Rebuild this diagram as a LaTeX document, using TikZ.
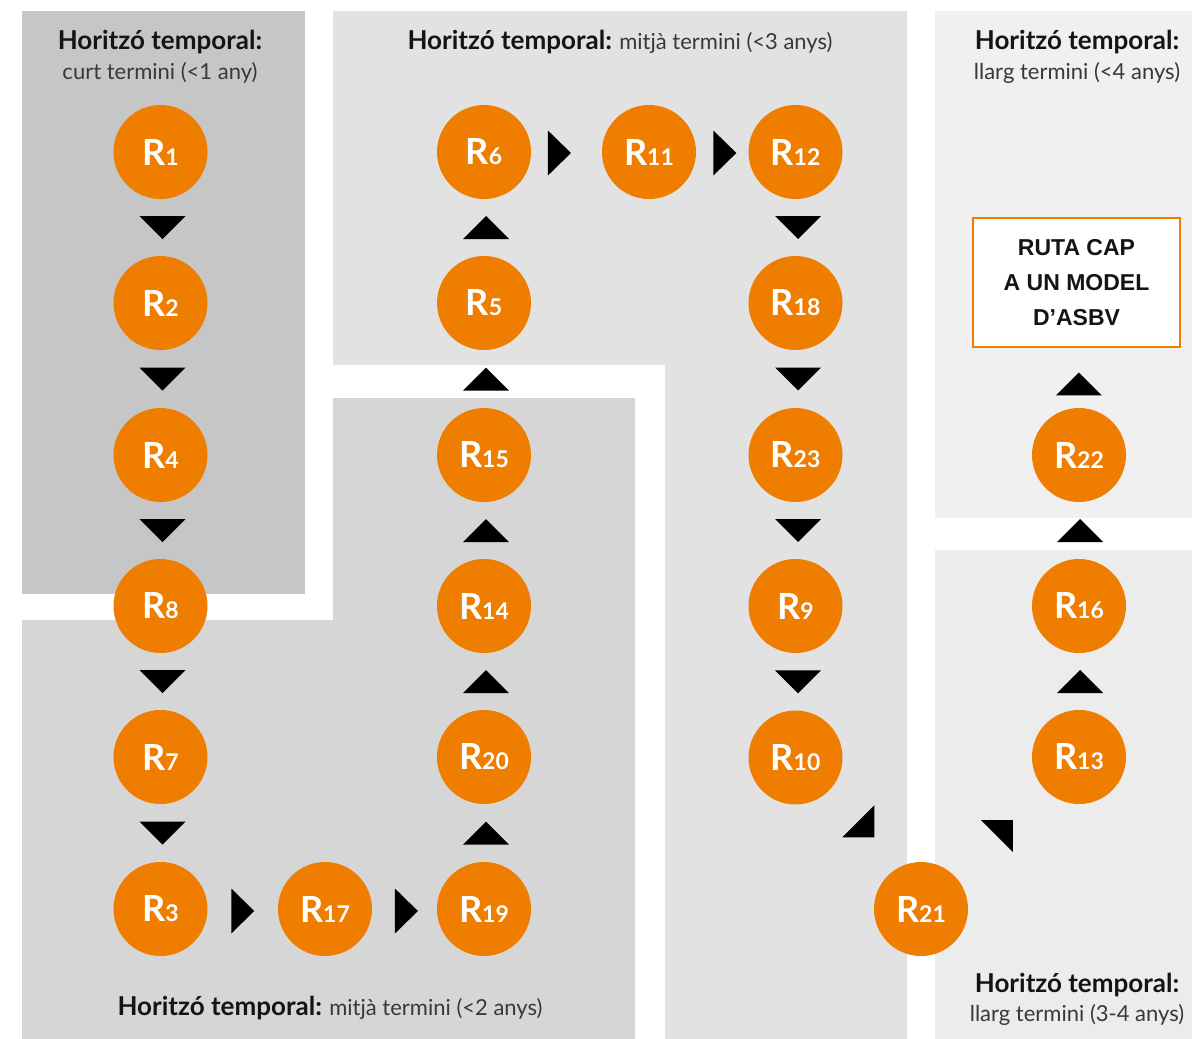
\documentclass[tikz,border=0pt]{standalone}
\usepackage{fontspec}
\setmainfont{Lato}
\newfontfamily\boxfont{Liberation Sans}
\usetikzlibrary{calc}
\definecolor{orng}{HTML}{EF7D00}
\definecolor{bgA}{HTML}{C6C6C6}
\definecolor{bgB}{HTML}{D6D6D6}
\definecolor{bgC}{HTML}{E2E2E2}
\definecolor{bgD}{HTML}{F0F0F0}
\definecolor{bgE}{HTML}{ECECEC}
\definecolor{txtb}{HTML}{141414}
\definecolor{txtr}{HTML}{383838}
\newcommand\rl[1]{R{\fontsize{23}{23}\selectfont #1}}
\newcommand\hz{{\fontsize{26}{30}\selectfont\bfseries\color{txtb}Horitzó temporal:}}
\tikzset{
  rnode/.style={circle, fill=orng, minimum size=94pt, inner sep=0pt, text=white,
    font=\fontsize{36}{36}\selectfont\bfseries},
  tri/.style={inner sep=0pt, outer sep=0pt},
  tridn/.style={tri, minimum width=46pt, minimum height=23pt,
    path picture={\fill[black] (path picture bounding box.north west) -- (path picture bounding box.north east) -- (path picture bounding box.south) -- cycle;}},
  triup/.style={tri, minimum width=46pt, minimum height=23pt,
    path picture={\fill[black] (path picture bounding box.south west) -- (path picture bounding box.south east) -- (path picture bounding box.north) -- cycle;}},
  trirt/.style={tri, minimum width=23pt, minimum height=45pt,
    path picture={\fill[black] (path picture bounding box.north west) -- (path picture bounding box.south west) -- (path picture bounding box.east) -- cycle;}},
  tridga/.style={tri, minimum width=32pt, minimum height=32pt,
    path picture={\fill[black] (path picture bounding box.south west) -- (path picture bounding box.north east) -- (path picture bounding box.south east) -- cycle;}},
  tridgb/.style={tri, minimum width=32pt, minimum height=32pt,
    path picture={\fill[black] (path picture bounding box.north west) -- (path picture bounding box.north east) -- (path picture bounding box.south east) -- cycle;}},
  ttl/.style={anchor=base, inner sep=0pt, font=\fontsize{22}{30}\selectfont, text=txtr},
  goalbox/.style={draw=orng, line width=2.5pt, fill=white, minimum width=207pt, minimum height=129pt,
    align=center, inner sep=0pt, font=\boxfont\fontsize{23}{35}\selectfont\bfseries, text=txtb},
}
\begin{document}
\begin{tikzpicture}[x=1pt,y=-1pt]
\useasboundingbox (0,0) rectangle (1192,1039);
% background panels
\fill[bgA] (22,11) rectangle (305,594);
\fill[bgB] (22,620) -- (333,620) -- (333,398) -- (635,398) -- (635,1039) -- (22,1039) -- cycle;
\fill[bgC] (333,11) -- (907,11) -- (907,1039) -- (665,1039) -- (665,365) -- (333,365) -- cycle;
\fill[bgD] (935,11) rectangle (1192,518);
\fill[bgE] (935,550) rectangle (1192,1039);

% titles
\node[ttl] (ta1) at (160,49) {\hz};
\node[ttl] (ta2) at (160,79) {curt termini (<1 any)};
\node[ttl] (tb1) at (620,49) {\hz{} mitjà termini (<3 anys)};
\node[ttl] (tc1) at (1077,49) {\hz};
\node[ttl] (tc2) at (1077,79) {llarg termini (<4 anys)};
\node[ttl] (td1) at (1077,992) {\hz};
\node[ttl] (td2) at (1077,1021) {llarg termini (3-4 anys)};
\node[ttl] (te1) at (330,1015) {\hz{} mitjà termini (<2 anys)};

% nodes
\node[rnode] (r1) at (160.5,152) {\rl{1}};
\node[rnode] (r2) at (160.5,303) {\rl{2}};
\node[rnode] (r4) at (160.5,455) {\rl{4}};
\node[rnode] (r8) at (160.5,606) {\rl{8}};
\node[rnode] (r7) at (160.5,757) {\rl{7}};
\node[rnode] (r3) at (160.5,909) {\rl{3}};
\node[rnode] (r17) at (325,909) {\rl{17}};
\node[rnode] (r19) at (484,909) {\rl{19}};
\node[rnode] (r20) at (484,757) {\rl{20}};
\node[rnode] (r14) at (484,606) {\rl{14}};
\node[rnode] (r15) at (484,455) {\rl{15}};
\node[rnode] (r5) at (484,303) {\rl{5}};
\node[rnode] (r6) at (484,152) {\rl{6}};
\node[rnode] (r11) at (649,152) {\rl{11}};
\node[rnode] (r12) at (795.5,152) {\rl{12}};
\node[rnode] (r18) at (795.5,303) {\rl{18}};
\node[rnode] (r23) at (795.5,455) {\rl{23}};
\node[rnode] (r9) at (795.5,606) {\rl{9}};
\node[rnode] (r10) at (795.5,757.5) {\rl{10}};
\node[rnode] (r21) at (921,909) {\rl{21}};
\node[rnode] (r13) at (1079,757) {\rl{13}};
\node[rnode] (r16) at (1079,606) {\rl{16}};
\node[rnode] (r22) at (1079,455) {\rl{22}};
\node[goalbox] (goal) at (1076.5,282.5) {RUTA CAP\\A UN MODEL\\D’ASBV};

% connectors (arrowheads only)
\path (r1) -- node[tridn, xshift=2pt]{} (r2);
\path (r2) -- node[tridn, xshift=2pt]{} (r4);
\path (r4) -- node[tridn, xshift=2pt]{} (r8);
\path (r8) -- node[tridn, xshift=2pt]{} (r7);
\path (r7) -- node[tridn, xshift=2pt]{} (r3);
\path (r3) -- node[trirt, yshift=-2pt]{} (r17);
\path (r17) -- node[trirt, pos=0.53, yshift=-2pt]{} (r19);
\path (r19) -- node[triup, xshift=2pt]{} (r20);
\path (r20) -- node[triup, xshift=2pt]{} (r14);
\path (r14) -- node[triup, xshift=2pt]{} (r15);
\path (r15) -- node[triup, xshift=2pt]{} (r5);
\path (r5) -- node[triup, xshift=2pt]{} (r6);
\path (r6) -- node[trirt, pos=0.4, yshift=-1pt]{} (r11);
\path (r11) -- node[trirt, pos=0.55, yshift=-1pt]{} (r12);
\path (r12) -- node[tridn, xshift=2.5pt]{} (r18);
\path (r18) -- node[tridn, xshift=2.5pt]{} (r23);
\path (r23) -- node[tridn, xshift=2.5pt]{} (r9);
\path (r9) -- node[tridn, xshift=2.5pt]{} (r10);
\path (r10) -- node[tridga, pos=0.5, yshift=12pt]{} (r21);
\path (r21) -- node[tridgb, pos=0.465]{} (r13);
\path (r13) -- node[triup, xshift=1pt]{} (r16);
\path (r16) -- node[triup, xshift=1pt]{} (r22);
\path (r22) -- node[triup, pos=0.4, xshift=1pt]{} (goal);
\end{tikzpicture}
\end{document}
